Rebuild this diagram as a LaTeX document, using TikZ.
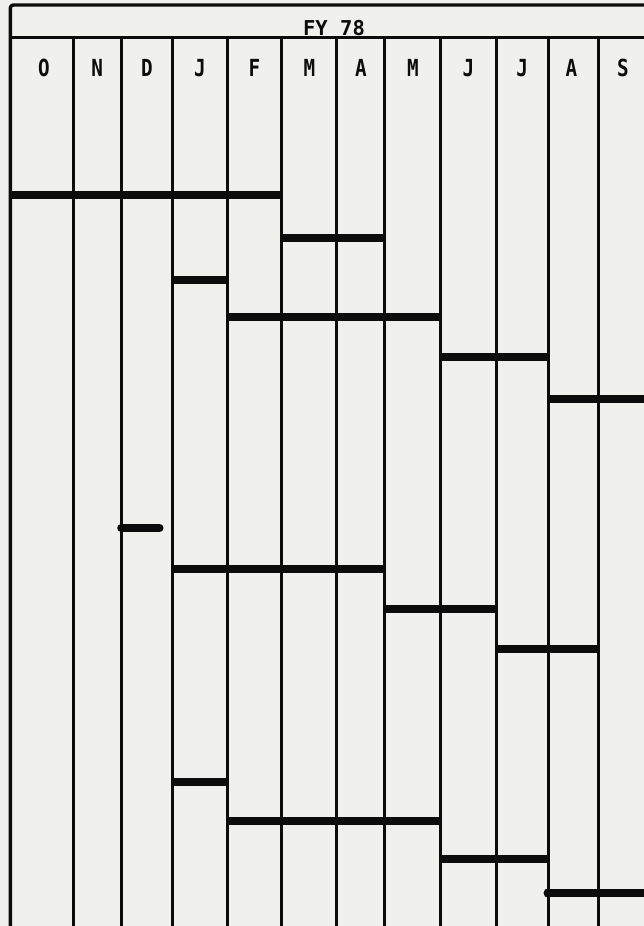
\documentclass[tikz,border=0pt]{standalone}
\usepackage{fontspec}
\setmonofont{DejaVu Sans Mono}
\newfontfamily\lettering[FakeStretch=0.82]{DejaVu Sans Mono}
\definecolor{paper}{RGB}{240,240,238}
\definecolor{ink}{RGB}{12,12,12}
\begin{document}
\begin{tikzpicture}[x=1pt,y=-1pt,
  gridline/.style={line width=2.8pt,ink,line cap=butt},
  border/.style={line width=3.4pt,ink,line join=round},
  bar/.style={line width=8pt,ink,line cap=butt},
  month/.style={font=\lettering\bfseries\fontsize{23.5}{23.5}\selectfont,inner sep=0pt,anchor=center,text=ink},
  fy/.style={font=\ttfamily\bfseries\fontsize{20.5}{20.5}\selectfont,inner sep=0pt,anchor=base,text=ink}
]
\fill[paper] (0,0) rectangle (644,926);
\useasboundingbox (0,0) rectangle (644,926);

% frame
\draw[border,rounded corners=3pt] (10.3,926) -- (10.3,5) -- (644,5);
\draw[border] (10.3,37.5) -- (644,37.5);

% column lines
\foreach \x in {73.1,121.2,172.5,227.1,281.7,336.8,384.8,440.7,496.1,548.3,598.4}
  \draw[gridline] (\x,37.5) -- (\x,926);

% header
\node[fy] (fy) at (334,35) {FY 78};
\node[month] (mO)  at (44,68)    {O};
\node[month] (mN)  at (97.2,68)  {N};
\node[month] (mD)  at (146.9,68) {D};
\node[month] (mJa) at (199.8,68) {J};
\node[month] (mF)  at (254.4,68) {F};
\node[month] (mM)  at (309.3,68) {M};
\node[month] (mA)  at (360.8,68) {A};
\node[month] (mMy) at (412.8,68) {M};
\node[month] (mJn) at (468.4,68) {J};
\node[month] (mJl) at (522.2,68) {J};
\node[month] (mAu) at (571.5,68) {A};
\node[month] (mS)  at (623,68)   {S};

% bars
\draw[bar] (10.3,194.5) -- (281.7,194.5);
\draw[bar] (281.7,238) -- (384.8,238);
\draw[bar] (172.5,280) -- (227.1,280);
\draw[bar] (227.1,316.5) -- (440.7,316.5);
\draw[bar] (440.7,356.5) -- (548.3,356.5);
\draw[bar] (548.3,399) -- (644,399);
\draw[bar,line cap=round] (121.2,528) -- (159.5,528);
\draw[bar] (172.5,569) -- (384.8,569);
\draw[bar] (384.8,609) -- (496.1,609);
\draw[bar] (496.1,649) -- (598.4,649);
\draw[bar] (172.5,782) -- (227.1,782);
\draw[bar] (227.1,821) -- (440.7,821);
\draw[bar] (440.7,859) -- (548.3,859);
\draw[bar] (548.3,893) -- (644,893);
\fill[ink] (548.3,893) circle (4.8pt);
\end{tikzpicture}
\end{document}
